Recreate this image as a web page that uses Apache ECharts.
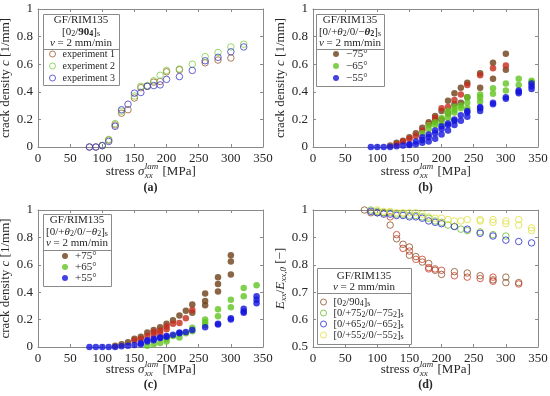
<!DOCTYPE html>
<html><head><meta charset="utf-8">
<script src="https://cdn.jsdelivr.net/npm/echarts@6/dist/echarts.min.js"></script>
<style>html,body{margin:0;padding:0;background:#fff}#c{width:550px;height:396px}</style>
</head><body><div id="c"></div><script>
// ---------- data ----------
const xTicks = [0, 50, 100, 150, 200, 250, 300, 350];
// (a) [0_2/90_4]_s, crack density
const expA1 = [[80,0],[90,0],[100,0.01],[110,0.05],[120,0.16],[130,0.245],[140,0.27],[150,0.355],[160,0.43],[170,0.44],[180,0.47],[190,0.475],[200,0.545],[220,0.56],[260,0.61],[280,0.63],[300,0.645]];
const expA2 = [[100,0.01],[110,0.055],[120,0.17],[130,0.26],[150,0.37],[160,0.44],[170,0.445],[180,0.48],[190,0.52],[200,0.555],[220,0.565],[240,0.6],[260,0.655],[280,0.685],[300,0.725],[320,0.745]];
const expA3 = [[80,0],[90,0],[100,0.01],[110,0.04],[120,0.15],[130,0.27],[140,0.31],[150,0.39],[160,0.395],[170,0.44],[180,0.445],[190,0.45],[200,0.49],[220,0.51],[240,0.555],[260,0.625],[280,0.65],[300,0.69],[320,0.725]];
// (b) negative angles
const brownB75 = [[120,0.01],[130,0.03],[140,0.045],[150,0.07],[160,0.1],[170,0.14],[180,0.18],[190,0.225],[190,0.19],[200,0.26],[200,0.2],[210,0.335],[210,0.245],[220,0.39],[220,0.31],[230,0.43],[230,0.32],[240,0.465],[240,0.36],[260,0.535],[260,0.43],[280,0.61],[280,0.495],[300,0.675],[300,0.56]];
const redB75 = [[130,0.02],[140,0.04],[150,0.06],[160,0.08],[170,0.12],[180,0.165],[190,0.21],[200,0.28],[210,0.29],[220,0.34],[230,0.38],[240,0.45],[260,0.52],[280,0.57],[300,0.59]];
const greenB65 = [[170,0.1],[180,0.13],[180,0.16],[190,0.16],[190,0.18],[200,0.17],[200,0.21],[210,0.21],[210,0.24],[210,0.26],[220,0.25],[220,0.27],[220,0.29],[230,0.28],[230,0.3],[240,0.28],[240,0.32],[240,0.36],[260,0.33],[260,0.36],[260,0.38],[280,0.385],[280,0.425],[300,0.41],[300,0.46],[320,0.45],[320,0.495],[340,0.47],[340,0.48]];
const blueB55 = [[90,0],[100,0],[110,0],[120,0],[130,0.005],[140,0.01],[150,0.015],[150,0.02],[160,0.02],[160,0.04],[170,0.03],[170,0.05],[170,0.07],[180,0.04],[180,0.07],[180,0.09],[190,0.06],[190,0.1],[190,0.12],[200,0.09],[200,0.13],[200,0.15],[210,0.12],[210,0.16],[210,0.17],[220,0.16],[220,0.19],[220,0.2],[230,0.19],[230,0.23],[240,0.22],[240,0.25],[240,0.26],[260,0.26],[260,0.28],[260,0.29],[280,0.31],[280,0.32],[300,0.35],[300,0.36],[320,0.39],[320,0.4],[320,0.41],[340,0.42],[340,0.44],[340,0.46]];
// (c) positive angles
const brownC75 = [[120,0.01],[130,0.02],[140,0.035],[150,0.06],[160,0.075],[170,0.105],[180,0.125],[190,0.145],[200,0.17],[210,0.195],[220,0.23],[230,0.265],[240,0.31],[240,0.25],[260,0.39],[260,0.335],[260,0.305],[280,0.51],[280,0.46],[280,0.405],[300,0.67],[300,0.625],[300,0.53]];
const redC75 = [[150,0.05],[160,0.06],[170,0.08],[180,0.11],[180,0.09],[190,0.12],[190,0.1],[200,0.15],[200,0.13],[210,0.17],[220,0.175],[230,0.21],[240,0.27]];
const greenC65 = [[170,0.01],[180,0.02],[190,0.03],[200,0.04],[200,0.06],[210,0.08],[220,0.07],[220,0.1],[230,0.1],[240,0.115],[240,0.14],[260,0.16],[260,0.18],[260,0.2],[280,0.225],[280,0.275],[300,0.29],[300,0.345],[320,0.37],[320,0.43],[340,0.45]];
const blueC55 = [[80,0],[90,0],[100,0],[110,0],[120,0],[130,0.005],[140,0.01],[150,0.015],[160,0.02],[160,0.03],[170,0.04],[170,0.05],[180,0.05],[180,0.06],[190,0.065],[190,0.07],[200,0.075],[200,0.08],[210,0.09],[220,0.1],[220,0.105],[230,0.11],[240,0.125],[260,0.145],[280,0.165],[280,0.17],[300,0.2],[300,0.21],[320,0.25],[320,0.26],[320,0.28],[340,0.32],[340,0.345],[340,0.37]];
// (d) stiffness ratio
const brownD = [[80,1.0],[90,0.99],[100,0.99],[110,0.99],[120,0.945],[130,0.895],[140,0.875],[150,0.865],[150,0.835],[160,0.83],[170,0.81],[180,0.805],[190,0.78],[200,0.765],[220,0.775],[240,0.77],[260,0.76],[280,0.745],[300,0.755],[300,0.735],[320,0.735]];
const redD = [[120,0.975],[130,0.91],[140,0.86],[150,0.85],[160,0.82],[170,0.82],[180,0.79],[180,0.785],[190,0.785],[200,0.78],[220,0.76],[240,0.755],[260,0.75],[280,0.755],[280,0.74],[320,0.73]];
const greenD = [[90,1.0],[100,0.995],[110,0.99],[120,0.99],[130,0.985],[140,0.985],[150,0.98],[160,0.98],[170,0.975],[180,0.97],[190,0.96],[200,0.955],[210,0.945],[220,0.94],[230,0.93],[240,0.925],[260,0.92],[280,0.91],[300,0.905]];
const blueD = [[90,0.995],[100,0.99],[110,0.985],[120,0.985],[130,0.98],[140,0.98],[150,0.975],[160,0.975],[170,0.97],[180,0.96],[190,0.955],[200,0.95],[220,0.94],[240,0.93],[260,0.915],[280,0.905],[300,0.89],[320,0.885],[340,0.88]];
const yellowD = [[100,1.0],[110,0.995],[120,0.995],[130,0.99],[140,0.99],[150,0.99],[160,0.99],[170,0.985],[180,0.975],[190,0.97],[200,0.97],[210,0.965],[220,0.96],[230,0.96],[240,0.965],[260,0.965],[260,0.96],[280,0.965],[280,0.955],[300,0.96],[300,0.95],[320,0.965],[320,0.945],[340,0.935],[340,0.925]];

// ---------- styling ----------
const FONT = '"Liberation Serif","DejaVu Serif",serif';
const TXT = '#262626';
const AX = '#8a8a8a';
const grids = [
  {left:38, top:9, width:225, height:138},
  {left:313, top:9, width:225, height:138},
  {left:38, top:210, width:225, height:137},
  {left:313, top:210, width:225, height:137}
];
const yRanges = [[0,1,0.2],[0,1,0.2],[0,1,0.2],[0.5,1,0.1]];
const subRich = {
  sub:{fontSize:8, lineHeight:6, verticalAlign:'bottom', fontFamily:FONT, color:TXT},
  it:{fontStyle:'italic', fontFamily:FONT, fontSize:11, color:TXT},
  b:{fontWeight:'bold', fontFamily:FONT, fontSize:11, color:TXT},
  bsub:{fontWeight:'bold', fontSize:8, lineHeight:6, verticalAlign:'bottom', fontFamily:FONT, color:TXT},
  bit:{fontWeight:'bold', fontStyle:'italic', fontFamily:FONT, fontSize:11, color:TXT}
};

const xAxis = [], yAxis = [];
grids.forEach((g, i) => {
  const line = {show:true, onZero:false, lineStyle:{color:AX, width:1}};
  const tick = {show:true, inside:true, length:3, lineStyle:{color:AX}};
  xAxis.push({gridIndex:i, type:'value', min:0, max:350, interval:50, position:'bottom',
    axisLine:line, axisTick:tick, splitLine:{show:false},
    axisLabel:{color:TXT, fontSize:13, fontFamily:FONT, margin:5}});
  xAxis.push({gridIndex:i, type:'value', min:0, max:350, interval:50, position:'top',
    axisLine:line, axisTick:tick, splitLine:{show:false}, axisLabel:{show:false}});
  const r = yRanges[i];
  const isD = i === 3;
  yAxis.push({gridIndex:i, type:'value', min:r[0], max:r[1], interval:r[2], position:'left',
    axisLine:line, axisTick:tick, splitLine:{show:false},
    axisLabel:{color:TXT, fontSize:13, fontFamily:FONT, margin:5},
    name: isD ? '{it|E}{sub|xx}/{it|E}{sub|xx,0} [−]' : 'crack density {it|c} [1/mm]',
    nameLocation:'middle', nameGap:22,
    nameTextStyle:{fontFamily:FONT, fontSize:13, color:TXT, lineHeight:15,
      rich:{it:{fontStyle:'italic', fontFamily:FONT, fontSize:13, color:TXT},
            sub:{fontStyle:'italic', fontFamily:FONT, fontSize:9, lineHeight:7, verticalAlign:'bottom', color:TXT}}}});
  yAxis.push({gridIndex:i, type:'value', min:r[0], max:r[1], interval:r[2], position:'right',
    axisLine:line, axisTick:tick, splitLine:{show:false}, axisLabel:{show:false}});
});

function openS(name, data, color, gi) {
  return {type:'scatter', name, data, xAxisIndex:2*gi, yAxisIndex:2*gi, symbol:'circle', symbolSize:6.5,
    itemStyle:{color:'rgba(255,255,255,0)', borderColor:color, borderWidth:1}, emphasis:{disabled:true}};
}
function fillS(name, data, color, gi) {
  return {type:'scatter', name, data, xAxisIndex:2*gi, yAxisIndex:2*gi, symbol:'circle', symbolSize:6.5,
    itemStyle:{color:color, borderWidth:0}, emphasis:{disabled:true}};
}
const C = {brown:'#6e4018', red:'#c42a1c', green:'#62c420', blue:'#1414dc'};
const series = [
  openS('experiment 1', expA1, '#9c5b2e', 0),
  openS('experiment 2', expA2, '#80d040', 0),
  openS('experiment 3', expA3, '#3c3cc8', 0),
  fillS('−75°', brownB75, C.brown, 1),
  fillS('−75° (b)', redB75, C.red, 1),
  fillS('−65°', greenB65, C.green, 1),
  fillS('−55°', blueB55, C.blue, 1),
  fillS('+75°', brownC75, C.brown, 2),
  fillS('+75° (b)', redC75, C.red, 2),
  fillS('+65°', greenC65, C.green, 2),
  fillS('+55°', blueC55, C.blue, 2),
  openS('d90', brownD, '#8a5024', 3),
  openS('d90b', redD, '#c83c28', 3),
  openS('d75', greenD, '#6cbc30', 3),
  openS('d65', blueD, '#2828d0', 3),
  openS('d55', yellowD, '#e0e040', 3)
];
const dNames = {
  d90:'[0{sub|2}/90{sub|4}]{sub|s}',
  d75:'[0/+75{sub|2}/0/−75{sub|2}]{sub|s}',
  d65:'[0/+65{sub|2}/0/−65{sub|2}]{sub|s}',
  d55:'[0/+55{sub|2}/0/−55{sub|2}]{sub|s}'
};
function leg(data, left, top, lh, fs, sz, open, fmt) {
  const o = {data, left, top, orient:'vertical', itemWidth:sz, itemHeight:sz, itemGap:0, icon:'circle',
    selectedMode:false, padding:0, z:10,
    textStyle:{fontFamily:FONT, fontSize:fs, color:TXT, lineHeight:lh, padding:[0,0,0,2], rich:subRich}};
  if (open) o.itemStyle = {borderWidth:1};
  if (fmt) o.formatter = fmt;
  return o;
}
const legend = [
  leg(['experiment 1','experiment 2','experiment 3'], 49, 48, 12, 10, 6, true),
  leg(['−75°','−65°','−55°'], 333, 48, 12, 11, 6, false),
  leg(['+75°','+65°','+55°'], 62, 250.5, 11, 11, 6, false),
  leg(['d90','d75','d65','d55'], 320, 296.5, 11, 10.5, 6, true, n => dNames[n])
];

// ---------- graphic: legend boxes, headers, captions, x labels ----------
const ctx = document.createElement('canvas').getContext('2d');
function tw(t, size, style) { ctx.font = (style || '') + ' ' + size + 'px ' + FONT; return ctx.measureText(t).width; }
function txt(x, y, text, opts) {
  return Object.assign({type:'text', x, y, z:12, style:Object.assign({text, fontFamily:FONT, fontSize:11, fill:TXT,
    align:'center', textAlign:'center', verticalAlign:'middle', textVerticalAlign:'middle', rich:subRich}, opts || {})});
}
function box(x0, y0, x1, y1, sepY) {
  return [
    {type:'rect', z:9, shape:{x:x0+0.5, y:y0+0.5, width:x1-x0, height:y1-y0}, style:{fill:'#fff', stroke:'#8a8a8a', lineWidth:1}},
    {type:'line', z:12, shape:{x1:x0+0.5, y1:sepY+0.5, x2:x1+0.5, y2:sepY+0.5}, style:{stroke:'#8a8a8a', lineWidth:1}}
  ];
}
function xLabel(cx, cy) {
  const a = 'stress ', s = 'σ', b = ' [MPa]';
  const wa = tw(a, 13), ws = tw(s, 13, 'italic'), wst = Math.max(tw('lam', 9, 'italic'), tw('xx', 9, 'italic')) + 1, wb = tw(b, 13);
  let x = cx - (wa + ws + wst + wb) / 2;
  const L = {align:'left', textAlign:'left'};
  const out = [];
  out.push(txt(x, cy, a, Object.assign({fontSize:13}, L))); x += wa;
  out.push(txt(x, cy, s, Object.assign({fontSize:13, fontStyle:'italic'}, L))); x += ws + 0.5;
  out.push(txt(x, cy - 5, 'lam', Object.assign({fontSize:9, fontStyle:'italic'}, L)));
  out.push(txt(x, cy + 4, 'xx', Object.assign({fontSize:9, fontStyle:'italic'}, L))); x += wst;
  out.push(txt(x, cy, b, Object.assign({fontSize:13}, L)));
  return out;
}
const graphic = [].concat(
  box(43, 14, 119, 85, 49),
  [txt(81, 20, 'GF/RIM135'), txt(81, 32, '[0{sub|2}/{b|90}{bsub|4}]{sub|s}'), txt(81, 43, '{it|v} = 2 mm/min')],
  box(316, 14, 384, 86, 49),
  [txt(350, 20, 'GF/RIM135'), txt(350, 32, '[0/+{it|θ}{sub|2}/0/−{bit|θ}{bsub|2}]{sub|s}'), txt(350, 43, '{it|v} = 2 mm/min')],
  box(43, 214, 111, 286, 250),
  [txt(77, 220, 'GF/RIM135'), txt(77, 232, '[0/+{it|θ}{sub|2}/0/−{it|θ}{sub|2}]{sub|s}'), txt(77, 243, '{it|v} = 2 mm/min')],
  box(317, 268, 411, 344, 293),
  [txt(364, 276, 'GF/RIM135'), txt(364, 287, '{it|v} = 2 mm/min')],
  xLabel(150.5, 172), xLabel(425.5, 172), xLabel(150.5, 370), xLabel(425.5, 370),
  [txt(150.5, 188, '(a)', {fontSize:12, fontWeight:'bold'}), txt(425.5, 188, '(b)', {fontSize:12, fontWeight:'bold'}),
   txt(150.5, 385, '(c)', {fontSize:12, fontWeight:'bold'}), txt(425.5, 385, '(d)', {fontSize:12, fontWeight:'bold'})]
);

const chart = echarts.init(document.getElementById('c'), null, {renderer:'canvas'});
chart.setOption({
  animation:false,
  backgroundColor:'#fff',
  grid: grids.map(g => Object.assign({outerBoundsMode:'none', containLabel:false}, g)),
  xAxis, yAxis, series, legend, graphic
});
</script></body></html>
